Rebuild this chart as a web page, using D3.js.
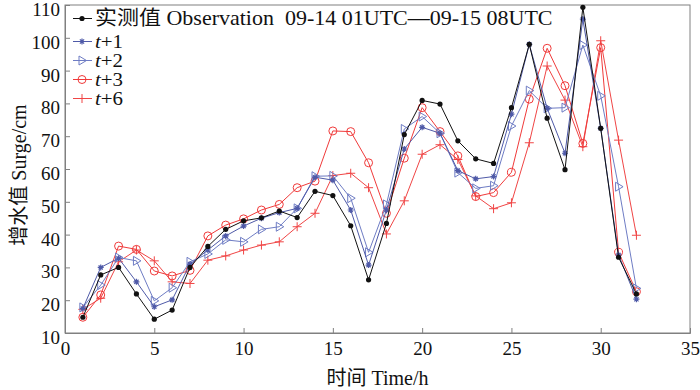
<!DOCTYPE html>
<html>
<head>
<meta charset="utf-8">
<script src="https://cdn.jsdelivr.net/npm/d3@7"></script>
<style>
  body { margin: 0; background: #fff; }
  text { font-family: "Liberation Serif", "Noto Sans CJK SC", serif; white-space: pre; }
</style>
</head>
<body>
<div id="chart"></div>
<script>
// hours since 09-14 01UTC
const hours = [1, 2, 3, 4, 5, 6, 7, 8, 9, 10, 11, 12, 13, 14, 15, 16,
               17, 18, 19, 20, 21, 22, 23, 24, 25, 26, 27, 28, 29, 30, 31, 32];

const observation = [14.8, 27.7, 30.0, 21.9, 14.2, 17.0, 30.0, 36.4, 41.6, 44.2, 45.1, 47.2, 45.2, 53.2, 51.9, 42.7,
                     26.2, 43.4, 70.5, 80.9, 79.8, 68.6, 63.1, 61.7, 78.7, 98.0, 75.5, 59.8, 109.3, 72.4, 33.1, 21.9];
const tPlus1 = [17.5, 30.0, 32.8, 25.6, 18.0, 20.1, 31.0, 35.3, 39.6, 42.6, 45.0, 46.7, 48.0, 57.5, 56.6, 47.5,
                30.7, 47.5, 66.1, 72.7, 70.9, 59.5, 57.0, 57.7, 76.7, 98.0, 78.5, 64.8, 105.7, 72.4, 33.8, 20.3];
const tPlus2 = [17.8, 24.6, 33.0, 32.0, 19.8, 23.8, 31.7, 34.1, 38.4, 37.8, 41.6, 42.4, 48.0, 57.8, 57.9, 51.1,
                34.6, 49.2, 72.2, 76.0, 70.9, 58.9, 54.1, 54.9, 73.1, 83.9, 78.5, 78.7, 97.8, 82.3, 54.6, 23.6];
const tPlus3 = [14.8, 21.6, 36.5, 35.5, 28.9, 27.4, 29.1, 39.6, 42.9, 44.8, 47.5, 49.2, 54.3, 56.3, 71.6, 71.4,
                61.9, 46.5, 63.3, 78.7, 71.4, 64.0, 51.6, 52.8, 59.0, 81.3, 96.8, 85.4, 67.8, 97.0, 34.6, 22.6];
const tPlus6 = [17.2, 20.6, 31.7, 35.3, 32.0, 25.6, 25.1, 32.2, 33.5, 35.3, 36.8, 37.8, 42.4, 46.5, 58.0, 58.7,
                54.3, 40.2, 50.3, 64.5, 67.4, 62.9, 51.8, 47.9, 49.7, 68.0, 91.4, 81.0, 66.8, 99.1, 68.8, 39.8];

const xTicks = [0, 5, 10, 15, 20, 25, 30, 35];
const yTicks = [10, 20, 30, 40, 50, 60, 70, 80, 90, 100, 110];

const series = [
  { name: 'obs', label: '实测值 Observation  09-14 01UTC—09-15 08UTC', values: observation, color: '#111', marker: 'dot' },
  { name: 't1', label: '+1', values: tPlus1, color: '#4f5aa8', marker: 'star' },
  { name: 't2', label: '+2', values: tPlus2, color: '#6e7cc4', marker: 'tri' },
  { name: 't3', label: '+3', values: tPlus3, color: '#f03a3a', marker: 'circle' },
  { name: 't6', label: '+6', values: tPlus6, color: '#f04545', marker: 'plus' }
];

const width = 700, height = 390;
const margin = { top: 5, right: 10, bottom: 57, left: 65 };
const axisColor = '#808080';

const svg = d3.select('#chart').append('svg')
  .attr('width', width)
  .attr('height', height);

svg.append('rect').attr('width', width).attr('height', height).attr('fill', '#fff');

const x = d3.scaleLinear().domain([0, 35]).range([margin.left, width - margin.right]);
const y = d3.scaleLinear().domain([10, 110]).range([height - margin.bottom, margin.top]);

// frame
svg.append('rect')
  .attr('x', x(0)).attr('y', y(110))
  .attr('width', x(35) - x(0)).attr('height', y(10) - y(110))
  .attr('fill', 'none').attr('stroke', axisColor).attr('stroke-width', 1);

// axes, ticks pointing inward
const xAxis = svg.append('g').attr('transform', `translate(0,${y(10)})`)
  .call(d3.axisBottom(x).tickValues(xTicks).tickSize(-5).tickPadding(9));
const yAxis = svg.append('g').attr('transform', `translate(${x(0)},0)`)
  .call(d3.axisLeft(y).tickValues(yTicks).tickSize(-5).tickPadding(5));

[xAxis, yAxis].forEach(g => {
  g.select('.domain').attr('stroke', axisColor);
  g.selectAll('.tick line').attr('stroke', axisColor);
  g.selectAll('.tick text').attr('fill', '#111').style('font-size', '19px')
    .style('font-family', '"Liberation Serif", serif');
});
// y labels sit a little low, as in the original
yAxis.selectAll('.tick text').attr('dy', '0.55em');

// axis titles
svg.append('text')
  .attr('x', (x(0) + x(35)) / 2).attr('y', 385)
  .attr('text-anchor', 'middle')
  .style('font-size', '20px').attr('fill', '#111')
  .text('时间 Time/h');

svg.append('text')
  .attr('transform', `translate(26,${(y(10) + y(110)) / 2 + 6}) rotate(-90)`)
  .attr('text-anchor', 'middle')
  .style('font-size', '20px').attr('fill', '#111')
  .text('增水值 Surge/cm');

function drawMarker(g, type, cx, cy, color) {
  if (type === 'dot') {
    g.append('circle').attr('cx', cx).attr('cy', cy).attr('r', 2.6).attr('fill', color);
  } else if (type === 'circle') {
    g.append('circle').attr('cx', cx).attr('cy', cy).attr('r', 4).attr('fill', 'none')
      .attr('stroke', color).attr('stroke-width', 1);
  } else if (type === 'plus') {
    g.append('path').attr('d', `M${cx - 4.5},${cy}H${cx + 4.5}M${cx},${cy - 4.5}V${cy + 4.5}`)
      .attr('stroke', color).attr('stroke-width', 1);
  } else if (type === 'tri') {
    g.append('path').attr('d', `M${cx - 3},${cy - 4.5}L${cx + 4.5},${cy}L${cx - 3},${cy + 4.5}Z`)
      .attr('fill', 'none').attr('stroke', color).attr('stroke-width', 1);
  } else if (type === 'star') {
    const r = 3;
    g.append('path')
      .attr('d', `M${cx - r},${cy}H${cx + r}M${cx},${cy - r}V${cy + r}` +
                 `M${cx - r * 0.7},${cy - r * 0.7}L${cx + r * 0.7},${cy + r * 0.7}` +
                 `M${cx - r * 0.7},${cy + r * 0.7}L${cx + r * 0.7},${cy - r * 0.7}`)
      .attr('stroke', color).attr('stroke-width', 1.2);
    g.append('circle').attr('cx', cx).attr('cy', cy).attr('r', 1.3).attr('fill', color);
  }
}

const line = d3.line()
  .x((d, i) => x(hours[i]))
  .y(d => y(d));

// draw forecasts first, observation on top
const drawOrder = [series[4], series[3], series[2], series[1], series[0]];
drawOrder.forEach(s => {
  const g = svg.append('g');
  g.append('path')
    .datum(s.values)
    .attr('fill', 'none')
    .attr('stroke', s.color)
    .attr('stroke-width', 1)
    .attr('d', line);
  s.values.forEach((v, i) => drawMarker(g, s.marker, x(hours[i]), y(v), s.color));
});

// legend (text is a bit wide in the original, so stretch it horizontally)
const legendRows = [24.5, 47.5, 66.5, 85.5, 104.5];
series.forEach((s, i) => {
  const g = svg.append('g');
  const ly = legendRows[i] - 6;
  g.append('line').attr('x1', 73).attr('x2', 92).attr('y1', ly).attr('y2', ly)
    .attr('stroke', s.color).attr('stroke-width', 1);
  drawMarker(g, s.marker, 82, ly, s.color);
  const t = g.append('text')
    .attr('transform', `translate(95,${legendRows[i]}) scale(1.1,1)`)
    .style('font-size', i === 0 ? '20px' : '19px').attr('fill', '#111');
  if (i === 0) {
    t.text(s.label);
  } else {
    t.append('tspan').style('font-style', 'italic').text('t');
    t.append('tspan').text(s.label);
  }
});
</script>
</body>
</html>
